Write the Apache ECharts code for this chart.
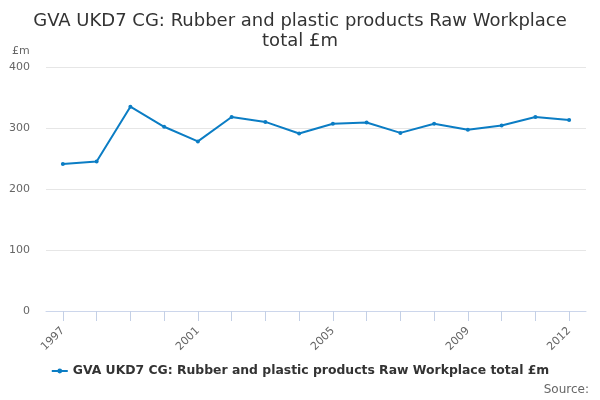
<!DOCTYPE html>
<html>
<head>
<meta charset="utf-8">
<script src="https://cdn.jsdelivr.net/npm/echarts@6/dist/echarts.min.js"></script>
<style>
  html, body { margin: 0; padding: 0; background: #fff; }
  #main { width: 600px; height: 400px; }
</style>
</head>
<body>
<div id="main"></div>
<script>
var years = ['1997', '1998', '1999', '2000', '2001', '2002', '2003', '2004',
    '2005', '2006', '2007', '2008', '2009', '2010', '2011', '2012'];
var gva = [241, 245, 335, 302, 278, 318, 310, 291, 307, 309, 292, 307, 297, 304, 318, 313];
var seriesName = 'GVA UKD7 CG: Rubber and plastic products Raw Workplace total £m';
var shownLabels = [0, 4, 8, 12, 15];

var myChart = echarts.init(document.getElementById('main'));
var font = 'DejaVu Sans';
var option = {
    animation: false,
    title: {
        text: 'GVA UKD7 CG: Rubber and plastic products Raw Workplace\ntotal £m',
        left: 'center',
        top: 6,
        textStyle: { fontFamily: font, fontSize: 18, fontWeight: 'normal', color: '#333', lineHeight: 20 }
    },
    graphic: [
        { type: 'text', left: 12, top: 46, style: { text: '£m', font: '11px DejaVu Sans', fill: '#666' } },
        { type: 'text', right: 11, top: 384, style: { text: 'Source:', font: '12px DejaVu Sans', fill: '#666' } }
    ],
    legend: {
        data: [seriesName],
        bottom: 18,
        left: 'center',
        itemWidth: 16,
        itemHeight: 6,
        textStyle: { fontFamily: font, fontSize: 12.4, fontWeight: 'bold', color: '#333' }
    },
    grid: { left: 46, right: 14, top: 67, bottom: 89 },
    xAxis: {
        type: 'category',
        data: years,
        boundaryGap: true,
        axisLine: { lineStyle: { color: '#ccd6eb' } },
        axisTick: { show: true, alignWithLabel: true, interval: 0, length: 10, lineStyle: { color: '#c4d0e6' } },
        axisLabel: {
            rotate: 45,
            margin: 18,
            fontFamily: font,
            fontSize: 11,
            color: '#666',
            interval: function (i) { return shownLabels.indexOf(i) >= 0; }
        }
    },
    yAxis: {
        type: 'value',
        min: 0,
        max: 400,
        interval: 100,
        axisLine: { show: false },
        axisTick: { show: false },
        splitLine: { lineStyle: { color: '#e6e6e6' } },
        axisLabel: { fontFamily: font, fontSize: 11, color: '#666', margin: 16 }
    },
    series: [{
        name: seriesName,
        type: 'line',
        data: gva,
        color: '#0b7dc4',
        lineStyle: { width: 2 },
        symbol: 'circle',
        symbolSize: 4
    }]
};
myChart.setOption(option);
</script>
</body>
</html>
